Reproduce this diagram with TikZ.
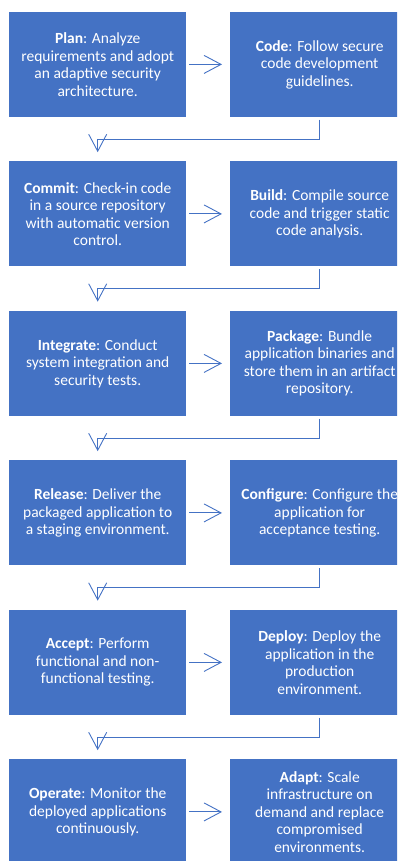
\documentclass[tikz,border=0pt]{standalone}
\usepackage{fontspec}
\setmainfont{Carlito}
\usetikzlibrary{arrows.meta}
\definecolor{boxblue}{HTML}{4472C4}
\begin{document}
\begin{tikzpicture}[x=1pt,y=-1pt,
  box/.style={fill=boxblue, text=white, minimum height=105pt, inner sep=0pt,
    align=center, anchor=north west, font=\fontsize{15.5}{17.5}\selectfont},
  lbox/.style={box, minimum width=177pt},
  rbox/.style={box, minimum width=179pt},
  link/.style={draw=boxblue, line width=0.9pt, -{Straight Barb[length=17pt,width=18pt]}}]
\useasboundingbox (0,0) rectangle (403,861);
\begin{scope}
\clip (0,0) rectangle (397,861);
\node[lbox] (l1) at (9,11.7) {\textbf{Plan}: Analyze\\requirements and adopt\\an adaptive security\\architecture.};
\node[rbox] (r1) at (230,11.7) {\textbf{Code}: Follow secure\\code development\\guidelines.};
\node[lbox] (l2) at (9,161.2) {\textbf{Commit}: Check-in code\\in a source repository\\with automatic version\\control.};
\node[rbox] (r2) at (230,161.2) {\textbf{Build}: Compile source\\code and trigger static\\code analysis.};
\node[lbox] (l3) at (9,310.7) {\textbf{Integrate}: Conduct\\system integration and\\security tests.};
\node[rbox] (r3) at (230,310.7) {\textbf{Package}: Bundle\\application binaries and\\store them in an artifact\\repository.};
\node[lbox] (l4) at (9,460.2) {\textbf{Release}: Deliver the\\packaged application to\\a staging environment.};
\node[rbox] (r4) at (230,460.2) {\textbf{Configure}: Configure the\\application for\\acceptance testing.};
\node[lbox] (l5) at (9,609.7) {\textbf{Accept}: Perform\\functional and non-\\functional testing.};
\node[rbox] (r5) at (230,609.7) {\textbf{Deploy}: Deploy the\\application in the\\production\\environment.};
\node[lbox] (l6) at (9,759.2) {\textbf{Operate}: Monitor the\\deployed applications\\continuously.};
\node[rbox] (r6) at (230,759.2) {\textbf{Adapt}: Scale\\infrastructure on\\demand and replace\\compromised\\environments.};
\foreach \i in {1,...,6}{
  \draw[link, shorten <=3pt, shorten >=8pt] (l\i.east) -- (r\i.west);
}
\foreach \i/\j in {1/2,2/3,3/4,4/5,5/6}{
  \draw[link, shorten <=2.5pt, shorten >=9pt] (r\i.south) -- ++(0,22.3) -| (l\j.north);
}
\end{scope}
\end{tikzpicture}
\end{document}
